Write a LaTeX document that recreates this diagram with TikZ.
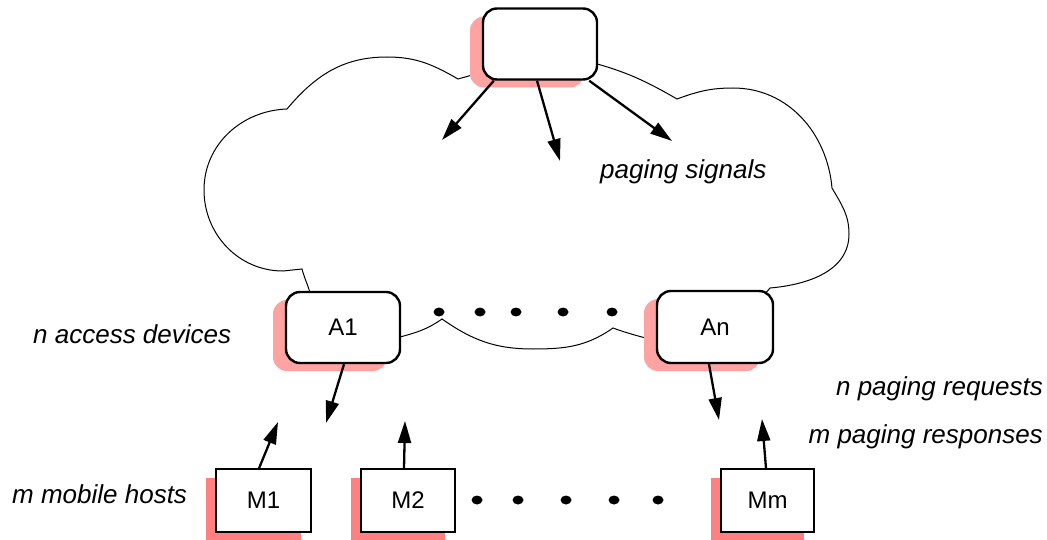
\documentclass[tikz,border=0pt]{standalone}
\usepackage{fontspec}
\setmainfont{Liberation Sans}
\usetikzlibrary{arrows.meta,shadows}
\definecolor{shpink}{RGB}{255,162,162}
\definecolor{shred}{RGB}{255,128,128}
\begin{document}
\begin{tikzpicture}[x=1pt,y=-1pt,
  abox/.style={draw, line width=2.4pt, rounded corners=14pt, fill=white,
    minimum width=114pt, minimum height=71pt, inner sep=0pt,
    font=\fontsize{24}{28}\selectfont,
    drop shadow={shadow xshift=-13pt, shadow yshift=-8pt, fill=shpink, opacity=1}},
  mbox/.style={draw, line width=1.3pt, fill=white,
    minimum width=94pt, minimum height=63pt, inner sep=0pt,
    font=\fontsize{24}{28}\selectfont,
    drop shadow={shadow xshift=-10pt, shadow yshift=-9pt, fill=shred, opacity=1}},
  arr/.style={line width=2.3pt, -{Triangle[length=22pt,width=13pt]}},
  lab/.style={font=\fontsize{26}{30}\selectfont\itshape, inner sep=0pt},
  cloudline/.style={line width=1pt},
  dot/.style={fill=black}]
\useasboundingbox (0,0) rectangle (1047,540);

% cloud outline
\draw[cloudline] (483,72) -- (458,79) to[out=150,in=0] (387,57) to[out=180,in=50] (287,109)
  to[out=182,in=90] (204,190) to[out=-90,in=180] (283,271) -- (302,269)
  to[out=-75,in=105] (311,296);
\draw[cloudline] (395,338) -- (400,337) to[out=15,in=215] (442,319)
  to[out=-35,in=180] (533,349) to[out=0,in=215] (613,328) to[out=-20,in=165] (657,341);
\draw[cloudline] (765,294) -- (770,288) to[out=5,in=-90] (849,234) to[out=90,in=-60] (832,188)
  to[out=95,in=0] (733,88) to[out=180,in=20] (677,99) to[out=150,in=-15] (590,62);

% nodes
\node[abox] (top) at (540,44) {};
\node[abox] (A1) at (343,327.5) {A1};
\node[abox, minimum width=116pt, minimum height=72pt] (An) at (715,327) {An};
\node[mbox, minimum width=95pt] (M1) at (263.5,500.5) {M1};
\node[mbox] (M2) at (408,500.5) {M2};
\node[mbox, minimum width=93pt] (Mm) at (767.5,500.5) {Mm};

% free arrow ends
\coordinate (t1) at (442,140);
\coordinate (t2) at (560,161);
\coordinate (t3) at (672,141);
\coordinate (ta1) at (326,423);
\coordinate (tan) at (719,420);
\coordinate (tm1) at (278,422);
\coordinate (tm2) at (405,421);
\coordinate (tmm) at (762,419);

% arrows
\draw[arr] ([xshift=12pt]top.south west) -- (t1);
\draw[arr] ([xshift=-3pt]top.south) -- (t2);
\draw[arr] ([xshift=-9pt]top.south east) -- (t3);
\draw[arr] ([xshift=1pt]A1.south) -- (ta1);
\draw[arr] ([xshift=-6pt]An.south) -- (tan);
\draw[arr] ([xshift=-4.5pt]M1.north) -- (tm1);
\draw[arr] ([xshift=-4pt]M2.north) -- (tm2);
\draw[arr] ([xshift=-1.5pt]Mm.north) -- (tmm);

% dots
\foreach \x in {439,480,516,563,612}
  \fill[dot] (\x,312) ellipse [x radius=5.5pt, y radius=4.5pt];
\foreach \x in {477,518,566,614,658}
  \fill[dot] (\x,500) ellipse [x radius=5.5pt, y radius=4.5pt];

% labels
\node[lab, anchor=base west] (ps) at (600,179) {paging signals};
\node[lab, anchor=base west] (nad) at (33,343) {n access devices};
\node[lab, anchor=base west] (mmh) at (12,503) {m mobile hosts};
\node[lab, anchor=base east] (npr) at (1043,395) {n paging requests};
\node[lab, anchor=base east] (mpr) at (1043,443) {m paging responses};
\end{tikzpicture}
\end{document}
